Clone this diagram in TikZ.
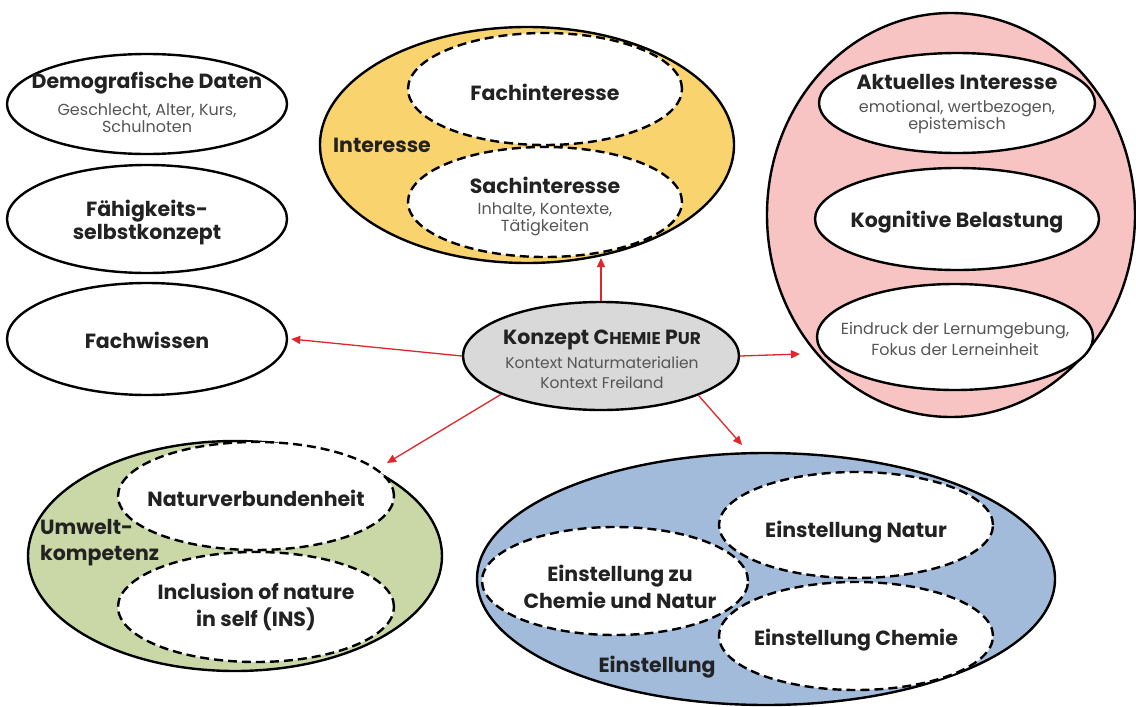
\documentclass[tikz,border=0pt]{standalone}
\usepackage{fontspec}
\setmainfont{Poppins}
\usetikzlibrary{shapes.geometric,arrows.meta}
\definecolor{yel}{HTML}{F9D36E}
\definecolor{pnk}{HTML}{F8C3C3}
\definecolor{grn}{HTML}{C9D8A6}
\definecolor{blu}{HTML}{A2BBDA}
\definecolor{gry}{HTML}{D9D9D9}
\definecolor{tcol}{HTML}{222222}
\definecolor{scol}{HTML}{555555}
\definecolor{arrred}{HTML}{E0262B}
\newcommand{\fsc}[1]{{\fontsize{17}{19}\selectfont #1}}
\begin{document}
\begin{tikzpicture}[x=1pt,y=-1pt,
  solidell/.style={ellipse, draw=black, line width=2.4pt, inner sep=0pt},
  dashfill/.style={ellipse, fill=white, draw=none, inner sep=0pt},
  dashline/.style={ellipse, draw=black, line width=2.4pt, dash pattern=on 9pt off 5pt, inner sep=0pt},
  title/.style={font=\bfseries\fontsize{20.5}{23}\selectfont, text=tcol, align=center, inner sep=0pt},
  sub/.style={font=\fontsize{16}{17}\selectfont, text=scol, align=center, inner sep=0pt},
  arr/.style={draw=arrred, line width=1.3pt, -{Triangle[length=9pt,width=8pt]}}]
\useasboundingbox (0,0) rectangle (1136,707);
\fill[white] (0,0) rectangle (1136,707);

% containers
\node[solidell, fill=yel, minimum width=414pt, minimum height=236pt] (interesse) at (527,145) {};
\node[solidell, fill=pnk, minimum width=368pt, minimum height=404pt] (rot) at (951,215) {};
\node[solidell, fill=grn, minimum width=414pt, minimum height=230pt] (umwelt) at (235,556) {};
\node[solidell, fill=blu, minimum width=578pt, minimum height=252pt] (einst) at (766,579) {};

% left column
\node[solidell, fill=white, minimum width=280pt, minimum height=100pt] (demo) at (147,104) {};
\node[solidell, fill=white, minimum width=280pt, minimum height=108pt] (faehig) at (147,219) {};
\node[solidell, fill=white, minimum width=280pt, minimum height=112pt] (fachw) at (147,339) {};

% red inner
\node[solidell, fill=white, minimum width=276pt, minimum height=100pt] (akt) at (957,103) {};
\node[solidell, fill=white, minimum width=284pt, minimum height=102pt] (kog) at (957,219) {};
\node[solidell, fill=white, minimum width=276pt, minimum height=106pt] (eind) at (955,337) {};

% centre
\node[solidell, fill=gry, minimum width=276pt, minimum height=108pt] (konzept) at (601,356) {};

% dashed fills
\node[dashfill, minimum width=274pt, minimum height=112pt] (fachintF) at (545,89) {};
\node[dashfill, minimum width=274pt, minimum height=110pt] (sachintF) at (545,202) {};
\node[dashfill, minimum width=276pt, minimum height=108pt] (natverbF) at (256,496) {};
\node[dashfill, minimum width=276pt, minimum height=110pt] (inclF) at (256,607) {};
\node[dashfill, minimum width=274pt, minimum height=106pt] (enaturF) at (856,525) {};
\node[dashfill, minimum width=274pt, minimum height=108pt] (echemF) at (856,636) {};
\node[dashfill, minimum width=266pt, minimum height=108pt] (ezuF) at (615,581) {};
% dashed outlines
\node[dashline, minimum width=274pt, minimum height=112pt] (fachint) at (545,89) {};
\node[dashline, minimum width=274pt, minimum height=110pt] (sachint) at (545,202) {};
\node[dashline, minimum width=276pt, minimum height=108pt] (natverb) at (256,496) {};
\node[dashline, minimum width=276pt, minimum height=110pt] (incl) at (256,607) {};
\node[dashline, minimum width=274pt, minimum height=106pt] (enatur) at (856,525) {};
\node[dashline, minimum width=274pt, minimum height=108pt] (echem) at (856,636) {};
\node[dashline, minimum width=266pt, minimum height=108pt] (ezu) at (615,581) {};

% texts
\node[title] (demoT) at (147,83) {Demografische Daten};
\node[sub] (demoS) at (147,118.5) {Geschlecht, Alter, Kurs,\\Schulnoten};
\node[title] (faehigT) at (147,223) {Fähigkeits-\\selbstkonzept};
\node[title] (fachwT) at (147,340) {Fachwissen};
\node[title] (interesseT) at (382,145) {Interesse};
\node[title] (fachintT) at (545,92) {Fachinteresse};
\node[title] (sachintT) at (545,185) {Sachinteresse};
\node[sub] (sachintS) at (545,219.5) {Inhalte, Kontexte,\\Tätigkeiten};
\node[title] (aktT) at (957,82) {Aktuelles Interesse};
\node[sub] (aktS) at (957,116.5) {emotional, wertbezogen,\\epistemisch};
\node[title] (kogT) at (957,222) {Kognitive Belastung};
\node[sub, font=\fontsize{16}{21.5}\selectfont] (eindS) at (955,339) {Eindruck der Lernumgebung,\\Fokus der Lerneinheit};
\node[title] (konzeptT) at (602,340) {Konzept C\fsc{HEMIE} P\fsc{UR}};
\node[sub, font=\fontsize{15.5}{20}\selectfont] (konzeptS) at (602,373) {Kontext Naturmaterialien\\Kontext Freiland};
\node[title] (natverbT) at (256,498) {Naturverbundenheit};
\node[title, font=\bfseries\fontsize{20.5}{27}\selectfont] (inclT) at (256,606.5) {Inclusion of nature\\in self (INS)};
\node[title, align=left, anchor=west, font=\bfseries\fontsize{20.5}{26}\selectfont] (umweltT) at (40,543) {Umwelt-\\kompetenz};
\node[title] (enaturT) at (856,532) {Einstellung Natur};
\node[title] (echemT) at (856,640) {Einstellung Chemie};
\node[title, font=\bfseries\fontsize{20.5}{27}\selectfont] (ezuT) at (620,586.5) {Einstellung zu\\Chemie und Natur};
\node[title] (einstT) at (657,667) {Einstellung};

% arrow ends
\coordinate (aI) at (601,258);
\coordinate (aR) at (800,354);
\coordinate (aUL) at (387,463);
\coordinate (aDR) at (742,445);

\draw[arr] (konzept.north) -- (aI);
\draw[arr] (konzept.west) -- ([xshift=3pt]fachw.east);
\draw[arr] (konzept.east) -- (aR);
\draw[arr] (konzept.201.7) -- (aUL);
\draw[arr] (konzept.338.5) -- (aDR);
\end{tikzpicture}
\end{document}
